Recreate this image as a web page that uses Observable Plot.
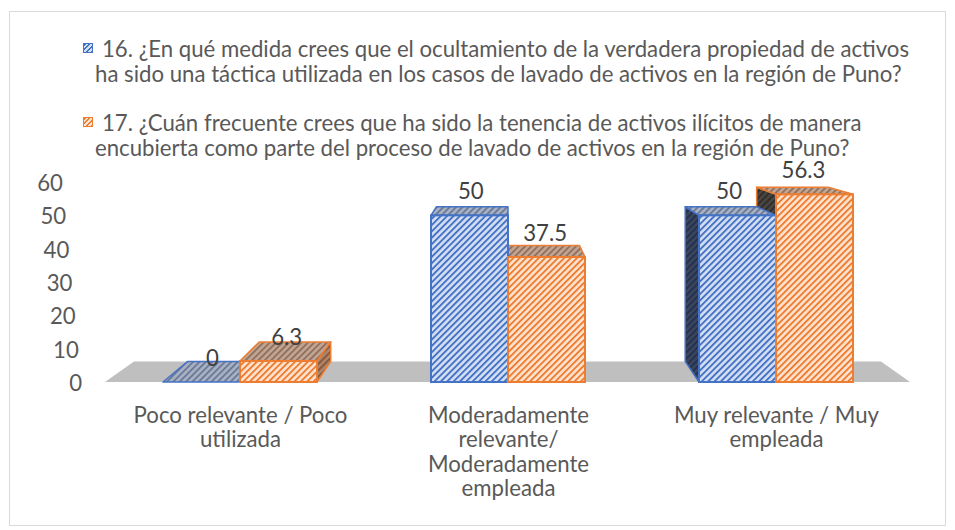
<!DOCTYPE html>
<html><head><meta charset="utf-8">
<script src="https://cdn.jsdelivr.net/npm/d3@7"></script>
<script src="https://cdn.jsdelivr.net/npm/@observablehq/plot@0.6"></script>
<style>
body{margin:0;background:#fff;}
#wrap{position:relative;width:955px;height:530px;overflow:hidden;font-family:Lato,"Open Sans",sans-serif;color:#595959;}
#border{position:absolute;left:9px;top:11px;width:937px;height:515px;border:1px solid #d9d9d9;box-sizing:border-box;z-index:2;pointer-events:none;}
#legend{position:absolute;left:0;top:0;z-index:1;}
.lg{position:absolute;white-space:nowrap;line-height:25px;height:25px;}
.sw{position:absolute;width:10px;height:10px;box-sizing:border-box;}
#chart{position:absolute;left:0;top:140px;}
</style></head><body>
<div id="wrap"><div id="border"></div><div id="chart"></div><div id="legend"></div></div>
<script>
// ---- data ----
const categories = [
  "Poco relevante / Poco utilizada",
  "Moderadamente relevante/ Moderadamente empleada",
  "Muy relevante / Muy empleada"
];
const categoryLines = [
  ["Poco relevante / Poco", "utilizada"],
  ["Moderadamente", "relevante/", "Moderadamente", "empleada"],
  ["Muy relevante / Muy", "empleada"]
];
const legendLines = [
  ["16. ¿En qué medida crees que el ocultamiento de la verdadera propiedad de activos",
   "ha sido una táctica utilizada en los casos de lavado de activos en la región de Puno?"],
  ["17. ¿Cuán frecuente crees que ha sido la tenencia de activos ilícitos de manera",
   "encubierta como parte del proceso de lavado de activos en la región de Puno?"]
];
const q16 = [0, 50, 50];
const q17 = [6.3, 37.5, 56.3];
const yTicks = [0, 10, 20, 30, 40, 50, 60];

// ---- style ----
const FONT = 'Lato, "Open Sans", sans-serif';
const COLORS = ["#4472c4", "#ed7d31"];
const LEGEND_TARGET_W = [798, 833, 756, 743];
function fitFont() {
  const c = document.createElement("canvas").getContext("2d");
  c.font = `100px ${FONT}`;
  let s = 0, t = 0;
  legendLines.flat().forEach((l, i) => { s += c.measureText(l).width; t += LEGEND_TARGET_W[i]; });
  return Math.max(15, Math.min(23, 100 * t / s));
}
const fs = fitFont();

// legend
const legend = document.getElementById("legend");
const swBg = [
  "repeating-linear-gradient(-45deg,#4472c4 0 1.4px,#d5dff3 1.4px 3.2px)",
  "repeating-linear-gradient(-45deg,#ed7d31 0 1.4px,#fde3d0 1.4px 3.2px)"
];
const legendTop = [48, 122];
legendLines.forEach((lines, s) => {
  const sw = document.createElement("div");
  sw.className = "sw";
  sw.style.left = "83px"; sw.style.top = (legendTop[s] - 5) + "px";
  sw.style.background = swBg[s]; sw.style.border = `1px solid ${COLORS[s]}`;
  legend.appendChild(sw);
  lines.forEach((l, j) => {
    const d = document.createElement("div");
    d.className = "lg";
    d.textContent = l;
    d.style.fontSize = fs + "px";
    d.style.left = (j === 0 ? 102 : 95) + "px";
    d.style.top = (legendTop[s] + 25 * j - 12.5) + "px";
    legend.appendChild(d);
  });
});

// ---- chart ----
const rows = categories.flatMap((c, i) => [
  {cat: c, s: 0, value: q16[i]},
  {cat: c, s: 1, value: q17[i]}
]);
const INSETS = [[57, 134], [134, 57]];
const K = 0.072, VDEPTH = 286;

function geometry(scales, dims) {
  const xs = scales.x, ys = scales.y;
  const bw = typeof xs.bandwidth === "function" ? xs.bandwidth()
    : (dims.width - dims.marginLeft - dims.marginRight) / categories.length;
  const y0 = ys(0);
  const xL = dims.marginLeft, xR = dims.width - dims.marginRight;
  const V = [(xL + xR) / 2, y0 - VDEPTH];
  const back = ([px, py]) => [px + K * (V[0] - px), py + K * (V[1] - py)];
  const bars = rows.map(r => ({
    ...r,
    x1: xs(r.cat) + INSETS[r.s][0],
    x2: xs(r.cat) + bw - INSETS[r.s][1],
    yt: ys(r.value), yb: y0
  }));
  return {V, back, bars, y0, xL, xR};
}
const ptsStr = pts => pts.map(p => p[0].toFixed(2) + "," + p[1].toFixed(2)).join(" ");

function addPattern(defs, id, bg, fg) {
  const p = defs.append("pattern").attr("id", id).attr("patternUnits", "userSpaceOnUse")
    .attr("width", 4.5).attr("height", 4.5).attr("patternTransform", "rotate(-45)");
  p.append("rect").attr("width", 4.5).attr("height", 4.5).attr("fill", bg);
  p.append("rect").attr("width", 4.5).attr("height", 1.9).attr("fill", fg);
}

function floorMark(index, scales, values, dims) {
  const g = d3.create("svg:g");
  const defs = g.append("defs");
  addPattern(defs, "pF0", "#d5dff3", "#4472c4");
  addPattern(defs, "pF1", "#fde3d0", "#ed7d31");
  addPattern(defs, "pT0", "#a9b2c3", "#6b7a99");
  addPattern(defs, "pT1", "#bfa696", "#94705a");
  addPattern(defs, "pSR0", "#5b6b8b", "#44546a");
  addPattern(defs, "pSR1", "#b08466", "#86583c");
  addPattern(defs, "pSL0", "#3a4660", "#27304a");
  addPattern(defs, "pSL1", "#4a4644", "#302c2a");
  const {back, y0, xL, xR} = geometry(scales, dims);
  g.append("polygon")
    .attr("points", ptsStr([[xL, y0], [xR, y0], back([xR, y0]), back([xL, y0])]))
    .attr("fill", "#bfbfbf");
  return g.node();
}

function facesMark(index, scales, values, dims) {
  const g = d3.create("svg:g");
  const {V, back, bars} = geometry(scales, dims);
  const order = bars.slice().sort((a, b) =>
    Math.abs((b.x1 + b.x2) / 2 - V[0]) - Math.abs((a.x1 + a.x2) / 2 - V[0]));
  for (const b of order) {
    const col = COLORS[b.s];
    const poly = (pts, fill) => g.append("polygon").attr("points", ptsStr(pts))
      .attr("fill", fill).attr("stroke", col).attr("stroke-width", 1.5).attr("stroke-linejoin", "round");
    if (b.x2 < V[0] - 0.5) {
      poly([[b.x2, b.yt], [b.x2, b.yb], back([b.x2, b.yb]), back([b.x2, b.yt])], `url(#pSR${b.s})`);
    } else if (b.x1 > V[0] + 0.5) {
      poly([[b.x1, b.yt], [b.x1, b.yb], back([b.x1, b.yb]), back([b.x1, b.yt])], `url(#pSL${b.s})`);
    }
    poly([[b.x1, b.yt], [b.x2, b.yt], back([b.x2, b.yt]), back([b.x1, b.yt])], `url(#pT${b.s})`);
  }
  return g.node();
}

function valueLabels(index, scales, values, dims) {
  const g = d3.create("svg:g").attr("font-family", FONT).attr("font-size", fs)
    .attr("fill", "#404040").attr("text-anchor", "middle");
  const {V, bars} = geometry(scales, dims);
  for (const b of bars) {
    const cx = (b.x1 + b.x2) / 2;
    g.append("text").attr("x", cx + 0.5 * K * (V[0] - cx)).attr("y", b.yt - 24)
      .attr("dy", "0.36em").text(String(b.value));
  }
  return g.node();
}

function yLabels(index, scales, values, dims) {
  const g = d3.create("svg:g").attr("font-family", FONT).attr("font-size", fs)
    .attr("fill", "#595959").attr("text-anchor", "end");
  const y0 = scales.y(0);
  for (const t of yTicks) {
    const y = scales.y(t);
    g.append("text").attr("x", dims.marginLeft - 23 - (y0 - y) * 0.095).attr("y", y + 1)
      .attr("dy", "0.36em").text(String(t));
  }
  return g.node();
}

const chart = Plot.plot({
  width: 955, height: 390,
  marginLeft: 105, marginRight: 45, marginTop: 42, marginBottom: 148,
  style: {background: "transparent", fontFamily: FONT, fontSize: fs + "px", color: "#595959"},
  x: {type: "band", domain: categories, padding: 0, axis: null},
  y: {domain: [0, 60], axis: null},
  marks: [
    floorMark,
    facesMark,
    Plot.barY(rows.filter(r => r.s === 0), {x: "cat", y: "value", fill: "url(#pF0)",
      stroke: COLORS[0], strokeWidth: 2, insetLeft: INSETS[0][0], insetRight: INSETS[0][1]}),
    Plot.barY(rows.filter(r => r.s === 1), {x: "cat", y: "value", fill: "url(#pF1)",
      stroke: COLORS[1], strokeWidth: 2, insetLeft: INSETS[1][0], insetRight: INSETS[1][1]}),
    yLabels,
    valueLabels,
    Plot.text(categories, {x: d => d, text: (d, i) => categoryLines[i].join("\n"),
      frameAnchor: "bottom", lineAnchor: "top", dy: 23, lineHeight: 24.5 / fs,
      fontSize: fs, fill: "#595959"})
  ]
});
document.getElementById("chart").appendChild(chart);
</script>
</body></html>
